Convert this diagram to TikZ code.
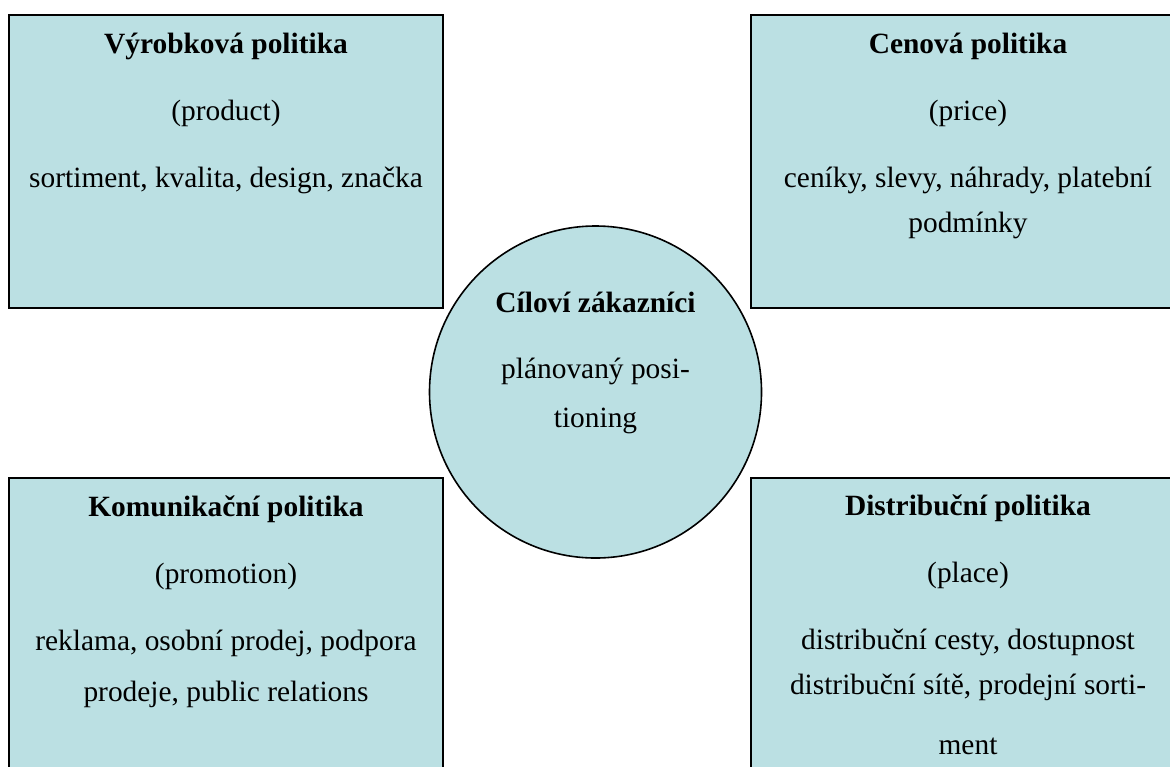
\documentclass[tikz,border=0pt]{standalone}
\usepackage{fontspec}
\setmainfont{Liberation Serif}
\usetikzlibrary{positioning}

\definecolor{mixblue}{RGB}{187,224,227}

\begin{document}
\begin{tikzpicture}[x=0.5pt,y=-0.5pt,node distance=153pt,
		policy/.style={draw,line width=1pt,fill=mixblue,inner sep=0pt,
			minimum width=217pt,minimum height=146.5pt},
		target/.style={circle,draw,line width=0.8pt,fill=mixblue,inner sep=0pt,
			minimum size=166pt},
		txt/.style={align=center,inner sep=0pt,anchor=base,
			font=\fontsize{14.7}{22.5}\selectfont}]
	\useasboundingbox (0,0) rectangle (1170,766);
	\clip (0,0) rectangle (1170,766);
	% the four policies of the mix
	\node[policy] (prod) at (226,161.5) {};
	\node[policy] (price) [right=of prod] {};
	\node[policy] (prom) [below=84pt of prod] {};
	\node[policy] (place) [below=84pt of price] {};
	\node[target] (cust) at (595.5,392) {};
	% texts, base anchor sits on the last line
	\node[txt] (prodtxt) at ([yshift=-86.5pt]prod.north) {\textbf{Výrobková politika}\\[11pt]
		(product)\\[11pt] sortiment, kvalita, design, značka};
	\node[txt] (pricetxt) at ([yshift=-109pt]price.north) {\textbf{Cenová politika}\\[11pt]
		(price)\\[11pt] ceníky, slevy, náhrady, platební\\ podmínky};
	\node[txt] (promtxt) at ([yshift=-112pt]prom.north) {\textbf{Komunikační politika}\\[11pt]
		(promotion)\\[11pt] reklama, osobní prodej, podpora\\[3pt] prodeje, public relations};
	\node[txt] (placetxt) at ([yshift=-138.5pt]place.north) {\textbf{Distribuční politika}\\[11pt]
		(place)\\[11pt] distribuční cesty, dostupnost\\ distribuční sítě, prodejní sorti-\\[7.5pt] ment};
	\node[txt] (custtxt) at ([yshift=-17.5pt]cust.center) {\textbf{Cíloví zákazníci}\\[10.5pt]
		plánovaný posi-\\[2pt] tioning};
\end{tikzpicture}
\end{document}
